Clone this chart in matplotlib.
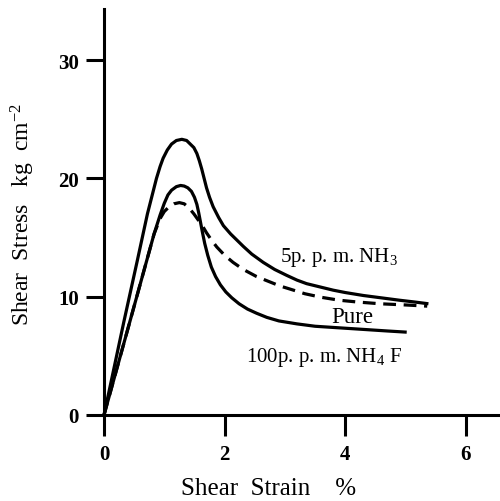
import matplotlib
matplotlib.use("Agg")
import matplotlib.pyplot as plt

plt.rcParams['font.family'] = ['Liberation Serif', 'DejaVu Serif']
plt.rcParams['mathtext.fontset'] = 'custom'
plt.rcParams['mathtext.rm'] = 'Liberation Serif'
plt.rcParams['mathtext.it'] = 'Liberation Serif:italic'

# 5 p.p.m. NH3
nh3_x = [0, 0.33, 0.55, 0.72, 0.8, 0.87, 0.93, 0.98, 1.05, 1.12, 1.2, 1.29, 1.37, 1.43, 1.49,
         1.54, 1.58, 1.62, 1.66, 1.70, 1.75, 1.81, 1.9, 1.98, 2.1, 2.2, 2.31, 2.45, 2.64, 2.83,
         3.03, 3.2, 3.36, 3.6, 3.8, 4.0, 4.3, 4.6, 4.9, 5.15, 5.38]
nh3_y = [0, 7.9, 13.0, 17.0, 18.6, 20.0, 21.0, 21.7, 22.4, 22.9, 23.2, 23.3, 23.2, 22.9, 22.6,
         22.1, 21.5, 20.8, 20.0, 19.2, 18.4, 17.6, 16.7, 16.0, 15.3, 14.8, 14.25, 13.6, 12.9, 12.3,
         11.8, 11.4, 11.1, 10.8, 10.55, 10.35, 10.1, 9.9, 9.7, 9.55, 9.4]

# 100 p.p.m. NH4F
nh4f_x = [0, 0.44, 0.83, 0.93, 1.0, 1.06, 1.12, 1.2, 1.27, 1.33, 1.39, 1.45, 1.5, 1.54, 1.57,
          1.6, 1.63, 1.67, 1.72, 1.78, 1.85, 1.93, 2.02, 2.12, 2.24, 2.38, 2.53, 2.7, 2.9, 3.2,
          3.5, 3.8, 4.1, 4.4, 4.7, 5.02]
nh4f_y = [0, 8.1, 15.3, 16.9, 17.9, 18.6, 19.0, 19.3, 19.4, 19.35, 19.2, 18.9, 18.4, 17.8, 17.1,
          16.3, 15.5, 14.5, 13.5, 12.5, 11.7, 11.0, 10.4, 9.9, 9.4, 8.95, 8.6, 8.25, 7.95, 7.7,
          7.5, 7.4, 7.3, 7.2, 7.1, 7.0]

# Pure
pure_x = [0, 0.44, 0.83, 0.93, 1.0, 1.08, 1.16, 1.25, 1.33, 1.41, 1.49, 1.56, 1.63, 1.7, 1.78,
          1.87, 2.0, 2.14, 2.31, 2.53, 2.7, 2.92, 3.08, 3.33, 3.6, 3.9, 4.2, 4.58, 5.0, 5.36]
pure_y = [0, 8.1, 15.3, 16.6, 17.2, 17.6, 17.85, 17.95, 17.85, 17.5, 17.0, 16.5, 16.0, 15.4, 14.8,
          14.2, 13.5, 12.9, 12.3, 11.7, 11.35, 10.9, 10.65, 10.25, 9.95, 9.7, 9.55, 9.4, 9.3, 9.2]

xticks = [0, 2, 4, 6]
yticks = [0, 10, 20, 30]

fig = plt.figure(figsize=(5.0, 5.02), dpi=100)
ax = fig.add_axes([0, 0, 1, 1])
ax.set_xlim(-1.725, 6.567)
ax.set_ylim(-7.27, 35.16)
ax.patch.set_alpha(0)

lw = 2.3
ax.plot(nh3_x, nh3_y, color='black', lw=lw, solid_capstyle='butt', solid_joinstyle='round')
ax.plot(nh4f_x, nh4f_y, color='black', lw=lw, solid_capstyle='butt', solid_joinstyle='round')
ax.plot(pure_x, pure_y, color='black', lw=lw, linestyle=(0, (4, 2.4)), dash_capstyle='butt')

for s in ['top', 'right']:
    ax.spines[s].set_visible(False)
ax.spines['left'].set_position(('data', 0))
ax.spines['bottom'].set_position(('data', 0))
ax.spines['left'].set_bounds(0, 34.3)
ax.spines['bottom'].set_bounds(0, 6.567)
ax.spines['left'].set_linewidth(2.2)
ax.spines['bottom'].set_linewidth(2.2)

ax.set_xticks(xticks)
ax.set_yticks(yticks)
ax.set_xticklabels([str(t) for t in xticks])
ax.set_yticklabels([str(t) for t in yticks])
ax.tick_params(axis='x', direction='out', length=15, width=2.2, pad=6, labelsize=15)
ax.tick_params(axis='y', direction='out', length=13, width=2.2, pad=5, labelsize=15)
for lab in ax.get_xticklabels() + ax.get_yticklabels():
    lab.set_fontweight('bold')

fig.text(269/500, 1 - 489/502, 'Shear  Strain    %', ha='center', va='center', fontsize=18)
fig.text(23/500, 1 - 215/502, 'Shear  Stress   kg  cm$^{-2}$', ha='center', va='center',
         fontsize=17, rotation=90)

ax.text(3.9, (416 - 258) / 11.83, '5p. p. m. NH$_3$', ha='center', va='center', fontsize=15)
ax.text(4.12, (416 - 318) / 11.83, 'Pure', ha='center', va='center', fontsize=16.5)
ax.text(3.65, (416 - 358) / 11.83, '100p. p. m. NH$_4$ F', ha='center', va='center', fontsize=15)

fig.savefig('out.png', dpi=100)
